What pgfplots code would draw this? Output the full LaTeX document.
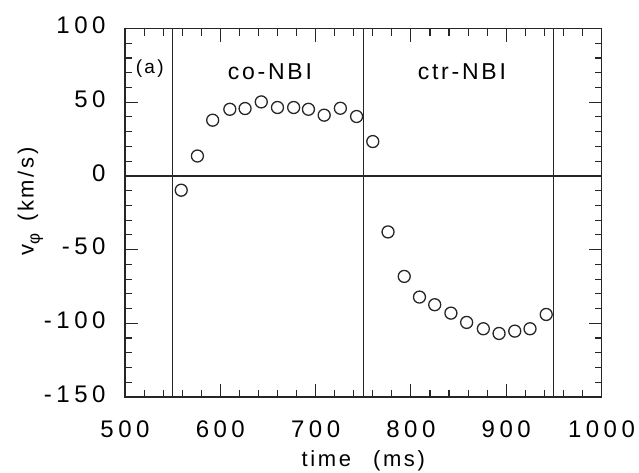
\documentclass[border=0pt]{standalone}
\usepackage{fontspec}
\setmainfont{Liberation Sans}
\newfontfamily\labfont{Liberation Sans}[LetterSpace=12]
\usepackage{pgfplots}
\pgfplotsset{compat=1.18}
% wide tracking between digits of the tick labels
\newcommand\g{\kern4.5pt}
% y tick labels are right-aligned on their anchor
\newcommand\yl[1]{\llap{#1}}

\begin{document}
\begin{tikzpicture}
\useasboundingbox (-125pt,-75pt) rectangle (514pt,397pt);
\begin{axis}[
  at={(0,0)}, anchor=south west,
  scale only axis,
  width=476.5pt, height=368.5pt,
  xmin=500, xmax=1000, ymin=-150, ymax=100,
  xtick={500,600,...,1000}, ytick={-150,-100,...,100},
  xticklabels={5\g0\g0, 6\g0\g0, 7\g0\g0, 8\g0\g0, 9\g0\g0, 1\g0\g0\g0},
  yticklabels={\yl{-\g1\g5\g0}, \yl{-\g1\g0\g0}, \yl{-\g5\g0}, \yl{0}, \yl{5\g0}, \yl{1\g0\g0}},
  minor x tick num=4, minor y tick num=4,
  tick align=inside,
  major tick length=13pt, minor tick length=7pt,
  axis line style={line width=1.2pt, black!85},
  every tick/.style={line width=1.1pt, black!85},
  tick label style={font=\fontsize{24}{28}\selectfont, inner sep=0pt},
  xticklabel style={anchor=north, yshift=-23.5pt},
  yticklabel style={anchor=center, xshift=-19.5pt, yshift=3pt},
  xlabel={time\hspace{22pt}(ms)},
  xlabel style={at={(axis description cs:0.5,0)}, anchor=base, yshift=-69pt,
    font=\labfont\fontsize{22}{25}\selectfont, inner sep=0pt},
  ylabel={v\raisebox{-6pt}{\fontsize{17}{20}\selectfont φ}\hspace{12pt}(km/s)},
  ylabel style={at={(axis description cs:-0.192,0.53)}, anchor=base,
    font=\labfont\fontsize{22}{25}\selectfont, inner sep=0pt},
  clip=false,
]
% beam switching times and zero line
\addplot[line width=1.2pt, black!85] coordinates {(550,-150) (550,100)};
\addplot[line width=1.2pt, black!85] coordinates {(750,-150) (750,100)};
\addplot[line width=1.2pt, black!85] coordinates {(950,-150) (950,100)};
\addplot[line width=1.2pt, black!85] coordinates {(500,0) (1000,0)};

% toroidal rotation velocity
\addplot[only marks, mark=o, mark size=6pt, mark options={line width=1.3pt, black!85}]
coordinates {
(559,-9.7) (576,13.5) (592,37.8) (610,45.2) (626,45.7) (643,50.2)
(660,46.4) (677,46.4) (692.5,45.2) (709,41.2) (726,45.9) (743,40.3)
(760,23.3) (776,-38) (793,-68.2) (809,-82.2) (825,-87.4) (842,-93.1)
(858.5,-99.4) (876,-103.7) (892.5,-106.9) (909,-105.3) (925,-103.7) (942,-94)
};

\node[font=\labfont\fontsize{19}{22}\selectfont, inner sep=0pt] at (axis cs:526,73) {(a)};
\node[font=\labfont\fontsize{23}{27}\selectfont, inner sep=0pt] at (axis cs:652,71) {co-NBI};
\node[font=\labfont\fontsize{23}{27}\selectfont, inner sep=0pt] at (axis cs:853.5,71) {ctr-NBI};
\end{axis}
\end{tikzpicture}
\end{document}
